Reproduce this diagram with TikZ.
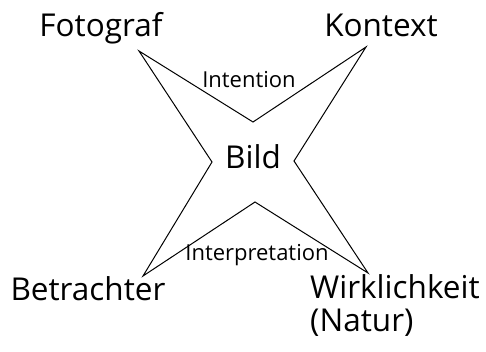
\documentclass[tikz,border=0pt]{standalone}
\usepackage{fontspec}
\setsansfont{Open Sans}
\usetikzlibrary{positioning}
\tikzset{
    corner/.style={
        font=\sffamily\fontsize{31.5}{33}\selectfont,
        inner sep=0pt,
    },
    edgelabel/.style={
        font=\sffamily\fontsize{22}{24}\selectfont,
        inner sep=0pt,
    },
    star/.style={
        draw, line width=1pt, line join=miter,
    },
}
\begin{document}
\begin{tikzpicture}[x=1pt,y=-1pt]
                \useasboundingbox (0,0) rectangle (486,351);
                % tips and inner corners of the star
                \coordinate (TL) at (139,51);
                \coordinate (TR) at (366,47);
                \coordinate (BR) at (368,273);
                \coordinate (BL) at (143,276);
                \coordinate (T) at (253,122);
                \coordinate (R) at (294,161);
                \coordinate (B) at (255,202);
                \coordinate (L) at (212,162);
                \draw[star] (TL) -- (T) -- (TR) -- (R) -- (BR) -- (B) -- (BL) -- (L) -- cycle;
                \node [corner, anchor=base] (fotograf) at (101,36) {Fotograf};
                \node [corner, anchor=base] (kontext) at (381,36) {Kontext};
                \node [corner, anchor=base] (betrachter) at (88,300) {Betrachter};
                \node [corner, anchor=base west, align=left] (wirklichkeit) at (310,331) {Wirklichkeit\\(Natur)};
                \node [corner, anchor=base] (bild) at (253,168) {Bild};
                \node [edgelabel, anchor=base] (intention) at (249,87) {Intention};
                \node [edgelabel, anchor=base] (interpretation) at (257,260) {Interpretation};
            \end{tikzpicture}
\end{document}
